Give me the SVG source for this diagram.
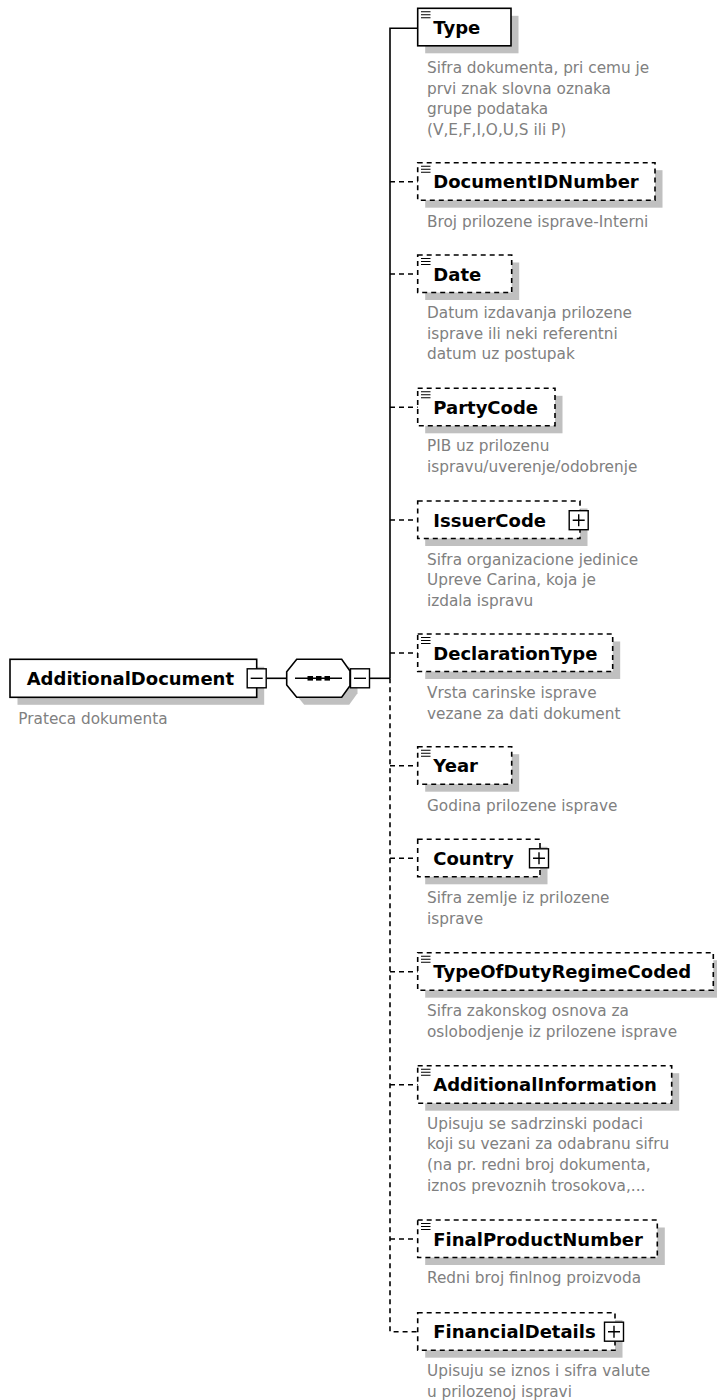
<svg xmlns="http://www.w3.org/2000/svg" width="717" height="1400" viewBox="0 0 717 1400">
<style>
.bg{fill:#fff}
.box{fill:#fff;stroke:#000;stroke-width:1.6}
.opt{stroke-dasharray:5 4}
.sh{fill:#c0c0c0}
.lbl{font-family:"DejaVu Sans",Verdana,sans-serif;font-weight:bold;font-size:18px;fill:#000}
.desc{font-family:"DejaVu Sans",Verdana,sans-serif;font-size:15.3px;fill:#808080}
.ln{stroke:#000;stroke-width:1.6;fill:none}
.dl{stroke:#000;stroke-width:1.6;fill:none;stroke-dasharray:5 4}
.ic{stroke:#000;stroke-width:1.1}
.pm{fill:#fff;stroke:#000;stroke-width:1.4}
.pl{stroke:#000;stroke-width:1.4}
</style>
<rect class="bg" x="0" y="0" width="717" height="1400"/>

<g id="connectors">
  <path class="ln" d="M390 678.3 V28.3 H418"/>
  <path class="dl" d="M390 678.3 V1331.7 H418"/>
  <path class="dl" d="M390 181.7 H418"/>
  <path class="dl" d="M390 274 H418"/>
  <path class="dl" d="M390 407.3 H418"/>
  <path class="dl" d="M390 520 H418"/>
  <path class="dl" d="M390 653 H418"/>
  <path class="dl" d="M390 765.7 H418"/>
  <path class="dl" d="M390 858.3 H418"/>
  <path class="dl" d="M390 971.7 H418"/>
  <path class="dl" d="M390 1084.7 H418"/>
  <path class="dl" d="M390 1239 H418"/>
  <path class="ln" d="M266.5 678.3 H286.7"/>
  <path class="ln" d="M369.5 678.3 H390"/>
</g>

<g id="AdditionalDocument">
  <rect class="sh" x="17.5" y="666.8" width="246.7" height="38"/>
  <rect class="box" x="10" y="659.3" width="246.7" height="38"/>
  <text class="lbl" x="26.7" y="684.8">AdditionalDocument</text>
  <rect class="pm" x="247.2" y="668.8" width="19" height="19"/>
  <path class="pl" d="M250.7 678.3 H262.7"/>
  <text class="desc" x="18.3" y="723.5">Prateca dokumenta</text>
</g>

<g id="sequence">
  <polygon class="sh" points="304.2,666.8 349.2,666.8 357.5,678.5 357.5,693.3 349.2,704.8 304.2,704.8 294.2,692.5 294.2,679.2"/>
  <polygon class="box" points="296.7,659.3 341.7,659.3 350,671 350,685.8 341.7,697.3 296.7,697.3 286.7,685 286.7,671.7"/>
  <path class="ln" d="M295 678.3 H342"/>
  <rect x="307.5" y="676" width="5.5" height="4.6"/>
  <rect x="316" y="676" width="5.5" height="4.6"/>
  <rect x="324.5" y="676" width="5.5" height="4.6"/>
  <rect class="pm" x="350.5" y="668.8" width="19" height="19"/>
  <path class="pl" d="M354 678.3 H366"/>
</g>

<g id="Type">
  <rect class="sh" x="425.2" y="15.8" width="93.3" height="37.5"/>
  <rect class="box" x="417.7" y="8.3" width="93.3" height="37.5"/>
  <path class="ic" d="M421 11.8 H430.5 M421 14.8 H430.5 M421 17.8 H430.5"/>
  <text class="lbl" x="433.3" y="33.8">Type</text>
  <text class="desc" x="427" y="73">Sifra dokumenta, pri cemu je</text>
  <text class="desc" x="427" y="93.5">prvi znak slovna oznaka</text>
  <text class="desc" x="427" y="114">grupe podataka</text>
  <text class="desc" x="427" y="134.5">(V,E,F,I,O,U,S ili P)</text>
</g>

<g id="DocumentIDNumber">
  <rect class="sh" x="425.2" y="170.2" width="237.3" height="37.5"/>
  <rect class="box opt" x="417.7" y="162.7" width="237.3" height="37.5"/>
  <path class="ic" d="M421 166.2 H430.5 M421 169.2 H430.5 M421 172.2 H430.5"/>
  <text class="lbl" x="433.3" y="188.2">DocumentIDNumber</text>
  <text class="desc" x="427" y="226.5">Broj prilozene isprave-Interni</text>
</g>

<g id="Date">
  <rect class="sh" x="425.2" y="262.5" width="94" height="37.5"/>
  <rect class="box opt" x="417.7" y="255" width="94" height="37.5"/>
  <path class="ic" d="M421 258.5 H430.5 M421 261.5 H430.5 M421 264.5 H430.5"/>
  <text class="lbl" x="433.3" y="280.5">Date</text>
  <text class="desc" x="427" y="318">Datum izdavanja prilozene</text>
  <text class="desc" x="427" y="338.7">isprave ili neki referentni</text>
  <text class="desc" x="427" y="359.4">datum uz postupak</text>
</g>

<g id="PartyCode">
  <rect class="sh" x="425.2" y="395.8" width="137.3" height="37.5"/>
  <rect class="box opt" x="417.7" y="388.3" width="137.3" height="37.5"/>
  <path class="ic" d="M421 391.8 H430.5 M421 394.8 H430.5 M421 397.8 H430.5"/>
  <text class="lbl" x="433.3" y="413.8">PartyCode</text>
  <text class="desc" x="427" y="451">PIB uz prilozenu</text>
  <text class="desc" x="427" y="471.5">ispravu/uverenje/odobrenje</text>
</g>

<g id="IssuerCode">
  <rect class="sh" x="425.2" y="508.5" width="162.3" height="37.5"/>
  <rect class="box opt" x="417.7" y="501" width="162.3" height="37.5"/>
  <text class="lbl" x="433.3" y="526.5">IssuerCode</text>
  <rect class="pm" x="569.2" y="510.7" width="19" height="19"/>
  <path class="pl" d="M572.7 520.2 H584.7 M578.7 514.2 V526.2"/>
  <text class="desc" x="427" y="564.5">Sifra organizacione jedinice</text>
  <text class="desc" x="427" y="585.2">Upreve Carina, koja je</text>
  <text class="desc" x="427" y="606">izdala ispravu</text>
</g>

<g id="DeclarationType">
  <rect class="sh" x="425.2" y="641.5" width="195" height="37.5"/>
  <rect class="box opt" x="417.7" y="634" width="195" height="37.5"/>
  <path class="ic" d="M421 637.5 H430.5 M421 640.5 H430.5 M421 643.5 H430.5"/>
  <text class="lbl" x="433.3" y="659.5">DeclarationType</text>
  <text class="desc" x="427" y="698.3">Vrsta carinske isprave</text>
  <text class="desc" x="427" y="718.8">vezane za dati dokument</text>
</g>

<g id="Year">
  <rect class="sh" x="425.2" y="754.2" width="94" height="37.5"/>
  <rect class="box opt" x="417.7" y="746.7" width="94" height="37.5"/>
  <path class="ic" d="M421 750.2 H430.5 M421 753.2 H430.5 M421 756.2 H430.5"/>
  <text class="lbl" x="433.3" y="772.2">Year</text>
  <text class="desc" x="427" y="811">Godina prilozene isprave</text>
</g>

<g id="Country">
  <rect class="sh" x="425.2" y="846.8" width="122.3" height="37.5"/>
  <rect class="box opt" x="417.7" y="839.3" width="122.3" height="37.5"/>
  <text class="lbl" x="433.3" y="864.8">Country</text>
  <rect class="pm" x="529.5" y="848.8" width="19" height="19"/>
  <path class="pl" d="M533 858.3 H545 M539 852.3 V864.3"/>
  <text class="desc" x="427" y="902.8">Sifra zemlje iz prilozene</text>
  <text class="desc" x="427" y="923.5">isprave</text>
</g>

<g id="TypeOfDutyRegimeCoded">
  <rect class="sh" x="425.2" y="960.2" width="295.6" height="37.5"/>
  <rect class="box opt" x="417.7" y="952.7" width="295.6" height="37.5"/>
  <path class="ic" d="M421 956.2 H430.5 M421 959.2 H430.5 M421 962.2 H430.5"/>
  <text class="lbl" x="433.3" y="978.2">TypeOfDutyRegimeCoded</text>
  <text class="desc" x="427" y="1016">Sifra zakonskog osnova za</text>
  <text class="desc" x="427" y="1036.8">oslobodjenje iz prilozene isprave</text>
</g>

<g id="AdditionalInformation">
  <rect class="sh" x="425.2" y="1073.2" width="254" height="37.5"/>
  <rect class="box opt" x="417.7" y="1065.7" width="254" height="37.5"/>
  <path class="ic" d="M421 1069.2 H430.5 M421 1072.2 H430.5 M421 1075.2 H430.5"/>
  <text class="lbl" x="433.3" y="1091.2">AdditionalInformation</text>
  <text class="desc" x="427" y="1128.5">Upisuju se sadrzinski podaci</text>
  <text class="desc" x="427" y="1149.2">koji su vezani za odabranu sifru</text>
  <text class="desc" x="427" y="1170">(na pr. redni broj dokumenta,</text>
  <text class="desc" x="427" y="1190.8">iznos prevoznih trosokova,...</text>
</g>

<g id="FinalProductNumber">
  <rect class="sh" x="425.2" y="1227.5" width="239.6" height="37.5"/>
  <rect class="box opt" x="417.7" y="1220" width="239.6" height="37.5"/>
  <path class="ic" d="M421 1223.5 H430.5 M421 1226.5 H430.5 M421 1229.5 H430.5"/>
  <text class="lbl" x="433.3" y="1245.5">FinalProductNumber</text>
  <text class="desc" x="427" y="1283.3">Redni broj finlnog proizvoda</text>
</g>

<g id="FinancialDetails">
  <rect class="sh" x="425.2" y="1320.2" width="197.3" height="37.5"/>
  <rect class="box opt" x="417.7" y="1312.7" width="197.3" height="37.5"/>
  <text class="lbl" x="433.3" y="1338.2">FinancialDetails</text>
  <rect class="pm" x="604.5" y="1322.2" width="19" height="19"/>
  <path class="pl" d="M608 1331.7 H620 M614 1325.7 V1337.7"/>
  <text class="desc" x="427" y="1376">Upisuju se iznos i sifra valute</text>
  <text class="desc" x="427" y="1396.5">u prilozenoj ispravi</text>
</g>
</svg>
